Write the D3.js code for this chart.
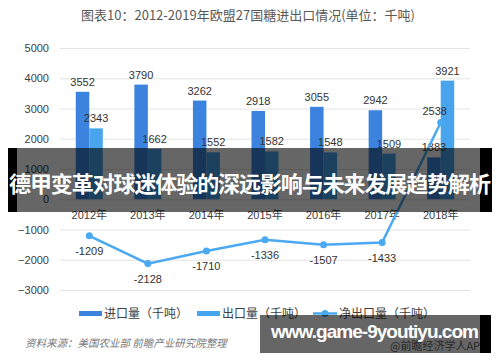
<!DOCTYPE html>
<html>
<head>
<meta charset="utf-8">
<script src="https://cdnjs.cloudflare.com/ajax/libs/d3/7.8.5/d3.min.js"></script>
<style>
  body { margin: 0; background: #fff; }
  svg { display: block; font-family: "Liberation Sans", "Noto Sans CJK SC", sans-serif; }
</style>
</head>
<body>
<div id="chart"></div>
<script>
var years = ["2012年", "2013年", "2014年", "2015年", "2016年", "2017年", "2018年"];
var imports = [3552, 3790, 3262, 2918, 3055, 2942, 1383];
var exports = [2343, 1662, 1552, 1582, 1548, 1509, 3921];
var netExports = [-1209, -2128, -1710, -1336, -1507, -1433, 2538];
var yTicks = [-3000, -2000, -1000, 0, 1000, 2000, 3000, 4000, 5000];
var seriesNames = ["进口量（千吨）", "出口量（千吨）", "净出口量（千吨）"];

var width = 500, height = 362;
var cImport = "#3b83df", cExport = "#48a4ec", cNet = "#4aa9f0";

var svg = d3.select("#chart").append("svg")
    .attr("width", width)
    .attr("height", height);

var x = d3.scaleBand().domain(years).range([60, 470]);
var y = d3.scaleLinear().domain([-3000, 5000]).range([290, 48]);
var barW = 13.5;

// title
svg.append("text")
    .attr("x", 248).attr("y", 20)
    .attr("text-anchor", "middle")
    .attr("font-size", 13)
    .attr("font-family", "Noto Sans CJK SC")
    .attr("fill", "#595959")
    .text("图表10：2012-2019年欧盟27国糖进出口情况(单位：千吨)");

// gridlines + tick labels
var yAxis = d3.axisLeft(y).tickValues(yTicks).tickSize(-410).tickFormat(d3.format("d"));
var ga = svg.append("g").attr("transform", "translate(60,0)").call(yAxis);
ga.select(".domain").remove();
ga.selectAll(".tick line").attr("stroke", "#e3e3e3").attr("stroke-width", 1);
ga.selectAll(".tick text").attr("x", -11).attr("font-size", 11).attr("fill", "#404040");

// bars
svg.append("g").selectAll("rect").data(imports).enter().append("rect")
    .attr("x", function (d, i) { return x(years[i]) + x.bandwidth() / 2 - barW; })
    .attr("y", function (d) { return y(d); })
    .attr("width", barW)
    .attr("height", function (d) { return y(0) - y(d); })
    .attr("fill", cImport);

svg.append("g").selectAll("rect").data(exports).enter().append("rect")
    .attr("x", function (d, i) { return x(years[i]) + x.bandwidth() / 2; })
    .attr("y", function (d) { return y(d); })
    .attr("width", barW)
    .attr("height", function (d) { return y(0) - y(d); })
    .attr("fill", cExport);

// bar labels
svg.append("g").selectAll("text").data(imports).enter().append("text")
    .attr("x", function (d, i) { return x(years[i]) + x.bandwidth() / 2 - barW / 2; })
    .attr("y", function (d) { return y(d) - 6; })
    .attr("text-anchor", "middle").attr("font-size", 11).attr("fill", "#333")
    .text(function (d) { return d; });

svg.append("g").selectAll("text").data(exports).enter().append("text")
    .attr("x", function (d, i) { return x(years[i]) + x.bandwidth() / 2 + barW / 2; })
    .attr("y", function (d) { return y(d) - 6; })
    .attr("text-anchor", "middle").attr("font-size", 11).attr("fill", "#333")
    .text(function (d) { return d; });

// category labels
svg.append("g").selectAll("text").data(years).enter().append("text")
    .attr("x", function (d) { return x(d) + x.bandwidth() / 2; })
    .attr("y", 219)
    .attr("text-anchor", "middle").attr("font-size", 11).attr("fill", "#404040")
    .text(function (d) { return d; });

// net export line
var line = d3.line()
    .x(function (d, i) { return x(years[i]) + x.bandwidth() / 2; })
    .y(function (d) { return y(d); });

svg.append("path").datum(netExports)
    .attr("d", line)
    .attr("fill", "none")
    .attr("stroke", cNet)
    .attr("stroke-width", 2.5);

svg.append("g").selectAll("circle").data(netExports).enter().append("circle")
    .attr("cx", function (d, i) { return x(years[i]) + x.bandwidth() / 2; })
    .attr("cy", function (d) { return y(d); })
    .attr("r", 3.5)
    .attr("fill", cNet);

svg.append("g").selectAll("text").data(netExports).enter().append("text")
    .attr("x", function (d, i) { return x(years[i]) + x.bandwidth() / 2 - (d > 0 ? 6 : 0); })
    .attr("y", function (d) { return d > 0 ? y(d) - 7 : y(d) + 19; })
    .attr("text-anchor", "middle").attr("font-size", 11).attr("fill", "#333")
    .text(function (d) { return d; });

// legend
var lg = svg.append("g").attr("font-size", 12).attr("fill", "#404040").attr("font-family", "Noto Sans CJK SC");
lg.append("rect").attr("x", 79).attr("y", 311).attr("width", 23).attr("height", 5).attr("fill", cImport);
lg.append("text").attr("x", 104).attr("y", 318).text(seriesNames[0]);
lg.append("rect").attr("x", 197).attr("y", 311).attr("width", 23).attr("height", 5).attr("fill", cExport);
lg.append("text").attr("x", 222).attr("y", 318).text(seriesNames[1]);
lg.append("line").attr("x1", 313).attr("x2", 337).attr("y1", 313.5).attr("y2", 313.5)
    .attr("stroke", cNet).attr("stroke-width", 2.5);
lg.append("circle").attr("cx", 325).attr("cy", 313.5).attr("r", 3.5).attr("fill", cNet);
lg.append("text").attr("x", 339).attr("y", 318).text(seriesNames[2]);

// source
svg.append("text")
    .attr("x", 25).attr("y", 347)
    .attr("font-size", 10.5).attr("font-style", "italic")
    .attr("font-family", "Noto Sans CJK SC")
    .attr("fill", "#777")
    .text("资料来源：美国农业部 前瞻产业研究院整理");

svg.append("text")
    .attr("x", 390).attr("y", 350)
    .attr("font-size", 11).attr("font-family", "Noto Sans CJK SC")
    .attr("fill", "#666")
    .text("@前瞻经济学人APP");

// overlay banner in the middle
svg.append("rect").attr("x", 8).attr("y", 148).attr("width", 484).attr("height", 64)
    .attr("fill", "rgba(0,0,0,0.6)");
svg.append("rect").attr("x", 8).attr("y", 148).attr("width", 9).attr("height", 64).attr("fill", "#000");
svg.append("rect").attr("x", 480).attr("y", 148).attr("width", 12).attr("height", 64).attr("fill", "#000");
svg.append("text")
    .attr("x", 250).attr("y", 192)
    .attr("text-anchor", "middle")
    .attr("font-size", 22).attr("font-weight", "bold")
    .attr("font-family", "Noto Sans CJK SC")
    .attr("fill", "#fff")
    .attr("textLength", 482)
    .text("德甲变革对球迷体验的深远影响与未来发展趋势解析");

// bottom website banner
svg.append("rect").attr("x", 260).attr("y", 315).attr("width", 231).attr("height", 38)
    .attr("fill", "rgba(0,0,0,0.6)");
svg.append("rect").attr("x", 480).attr("y", 315).attr("width", 11).attr("height", 38).attr("fill", "#000");
svg.append("text")
    .attr("x", 271).attr("y", 338)
    .attr("font-size", 19).attr("font-weight", "bold")
    .attr("font-family", "Liberation Sans")
    .attr("fill", "#fff")
    .attr("textLength", 208)
    .text("www.game-9youtiyu.com");
</script>
</body>
</html>
